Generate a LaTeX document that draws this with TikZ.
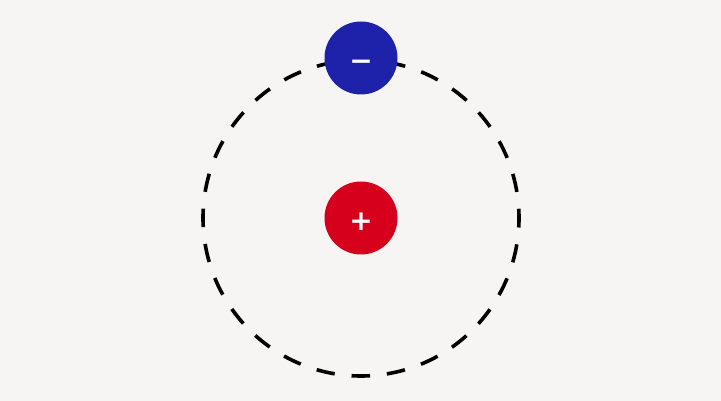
\documentclass[tikz,border=0pt]{standalone}
\usepackage{fontspec}
\newfontfamily\signfont{DejaVu Sans Bold}
\usepackage{xcolor}
\definecolor{paper}{RGB}{247,245,243}
\definecolor{protonred}{RGB}{214,0,28}
\definecolor{electronblue}{RGB}{30,34,170}
\usepackage{tikz}
\usetikzlibrary{positioning}

\begin{document}
\begin{tikzpicture}[x=1pt,y=1pt,
      charge/.style={circle,draw=none,minimum size=73pt,inner sep=0pt,text=white,text height=25pt,text depth=0pt,font=\signfont\fontsize{28}{28}\selectfont},
      orbit/.style={line width=3.6pt,black,dash pattern=on 18.5pt off 16.95pt,dash phase=9.25pt}]
    % background and frame
    \fill[paper] (0,0) rectangle (721,401);
    \useasboundingbox (0,0) rectangle (721,401);
    % nucleus in the middle
    \node[charge,fill=protonred] (nucleus) at (361,183) {+};
    % dashed orbit around it
    \draw[orbit] (nucleus.center) circle[radius=158pt];
    % electron sitting on top of the orbit
    \node[charge,fill=electronblue] (electron) at (361,343) {−};
  \end{tikzpicture}
\end{document}
